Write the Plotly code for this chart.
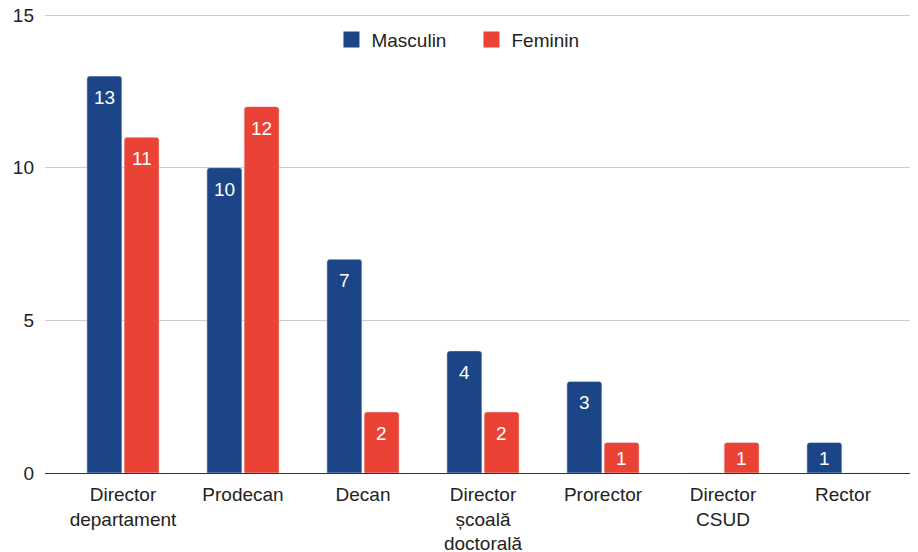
import plotly.graph_objects as go

categories = ["Director<br>departament", "Prodecan", "Decan", "Director<br>școală<br>doctorală",
              "Prorector", "Director<br>CSUD", "Rector"]
masculin = [13, 10, 7, 4, 3, 0, 1]
feminin = [11, 12, 2, 2, 1, 1, 0]
y_ticks = [0, 5, 10, 15]

blue = "#1c4587"
red = "#ea4335"
FONT = "Liberation Sans, Arial, sans-serif"

fig = go.Figure()
for name, vals, col, shift in [("Masculin", masculin, blue, -18.6), ("Feminin", feminin, red, 18.6)]:
    fig.add_trace(go.Bar(name=name, x=categories, y=vals, marker_color=col, showlegend=False))
    for c, v in zip(categories, vals):
        if v:
            fig.add_annotation(x=c, y=v, text=str(v), showarrow=False, xanchor="center",
                               yanchor="top", xshift=shift, yshift=-9 if v > 1 else -4,
                               font=dict(color="white", size=19, family=FONT))
for name, col in [("Masculin", blue), ("Feminin", red)]:
    fig.add_trace(go.Scatter(name=name, x=[None], y=[None], mode="markers",
                             marker=dict(symbol="square", size=16, color=col)))

fig.update_layout(
    width=910, height=544,
    margin=dict(l=37, r=0, t=4, b=79),
    paper_bgcolor="white", plot_bgcolor="white",
    font=dict(family=FONT, size=19, color="#222222"),
    barmode="group", bargap=0.38, bargroupgap=0.06, barcornerradius=3,
    legend=dict(orientation="h", x=0.4885, xanchor="center", y=0.94, yanchor="middle",
                bgcolor="rgba(0,0,0,0)",
                font=dict(size=19, color="#222222"), itemwidth=30, traceorder="normal",
                entrywidth=95, entrywidthmode="pixels"),
    xaxis=dict(range=[-0.65, 6.625], showgrid=False, showline=True, linecolor="#333333",
               linewidth=1, ticks="", ticklabelstandoff=4, automargin=False,
               tickfont=dict(size=19, color="#222222")),
    yaxis=dict(range=[0, 15.1], tickvals=y_ticks, showgrid=True, gridcolor="#cccccc",
               zeroline=False, ticks="", ticklabelstandoff=10, automargin=False,
               ticklabeloverflow="allow",
               tickfont=dict(size=19, color="#222222")),
)

fig.write_html("out.html")
